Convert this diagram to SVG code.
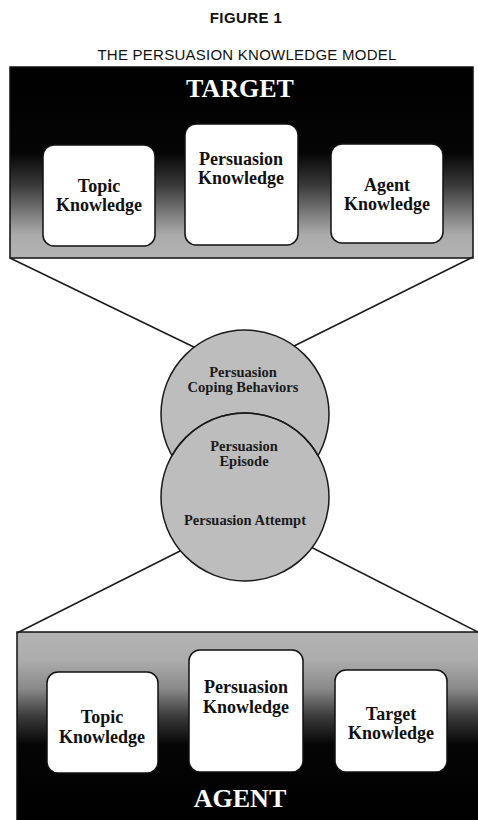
<svg xmlns="http://www.w3.org/2000/svg" width="478" height="820" viewBox="0 0 478 820">
<defs>
<linearGradient id="gTop" gradientUnits="userSpaceOnUse" x1="0" y1="67" x2="0" y2="258">
<stop offset="0" stop-color="#000"/>
<stop offset="0.45" stop-color="#050505"/>
<stop offset="0.62" stop-color="#3a3a3a"/>
<stop offset="0.8" stop-color="#8a8a8a"/>
<stop offset="0.88" stop-color="#ababab"/>
<stop offset="1" stop-color="#b4b4b4"/>
</linearGradient>
<linearGradient id="gBot" gradientUnits="userSpaceOnUse" x1="0" y1="632" x2="0" y2="820">
<stop offset="0" stop-color="#b4b4b4"/>
<stop offset="0.15" stop-color="#acacac"/>
<stop offset="0.3" stop-color="#8a8a8a"/>
<stop offset="0.45" stop-color="#3a3a3a"/>
<stop offset="0.6" stop-color="#050505"/>
<stop offset="1" stop-color="#000"/>
</linearGradient>
</defs>
<style>
.title{font-family:"Liberation Sans",Arial,sans-serif;fill:#111;text-anchor:middle}
.panel{stroke:#111;stroke-width:1.5}
.hdr{font-family:"Liberation Serif","Times New Roman",serif;font-weight:bold;fill:#fff;text-anchor:middle;font-size:26px}
.node rect{fill:#fff;stroke:#111;stroke-width:1.5}
.node text{font-family:"Liberation Serif","Times New Roman",serif;font-weight:bold;fill:#111;text-anchor:middle;font-size:18px}
.circ{fill:#bdbdbd;stroke:#1a1a1a;stroke-width:1.5}
.ctext{font-family:"Liberation Serif","Times New Roman",serif;font-weight:bold;fill:#1a1a1a;text-anchor:middle;font-size:14.5px}
.conn line{stroke:#1a1a1a;stroke-width:1.5}
</style>
<rect width="478" height="820" fill="#fff"/>
<text class="title" x="246" y="23" font-size="15" font-weight="bold" letter-spacing="0.4">FIGURE 1</text>
<text class="title" x="247" y="60" font-size="15" letter-spacing="0.25">THE PERSUASION KNOWLEDGE MODEL</text>

<g id="target-panel">
<rect class="panel" x="10" y="67" width="463" height="191" fill="url(#gTop)"/>
<text class="hdr" x="240" y="97">TARGET</text>
</g>
<g id="agent-panel">
<rect class="panel" x="17" y="632" width="470" height="200" fill="url(#gBot)"/>
<text class="hdr" x="240" y="807">AGENT</text>
</g>

<g id="connectors" class="conn">
<line x1="10" y1="258" x2="200" y2="350"/>
<line x1="473" y1="257" x2="290" y2="348"/>
<line x1="17" y1="633" x2="190" y2="546"/>
<line x1="478" y1="632" x2="303" y2="543"/>
</g>

<g id="target-topic" class="node">
<rect x="43" y="145" width="112" height="101" rx="11"/>
<text x="99" y="192">Topic</text>
<text x="99" y="211">Knowledge</text>
</g>
<g id="target-persuasion" class="node">
<rect x="185" y="124" width="113" height="121" rx="11"/>
<text x="241" y="165">Persuasion</text>
<text x="241" y="184">Knowledge</text>
</g>
<g id="target-agent" class="node">
<rect x="331" y="144" width="112" height="99" rx="11"/>
<text x="387" y="191">Agent</text>
<text x="387" y="210">Knowledge</text>
</g>

<g id="coping">
<circle class="circ" cx="245" cy="414" r="84"/>
</g>
<g id="attempt">
<circle class="circ" cx="245" cy="497" r="84"/>
<path d="M 172 455.5 A 84 84 0 0 1 318 455.5" fill="none" stroke="#1a1a1a" stroke-width="1.5"/>
<text class="ctext" x="245" y="525">Persuasion Attempt</text>
</g>
<g id="coping-text">
<text class="ctext" x="243" y="377">Persuasion</text>
<text class="ctext" x="243" y="392">Coping Behaviors</text>
</g>
<g id="episode">
<text class="ctext" x="244" y="451">Persuasion</text>
<text class="ctext" x="244" y="466">Episode</text>
</g>

<g id="agent-topic" class="node">
<rect x="47" y="672" width="111" height="101" rx="11"/>
<text x="102" y="723">Topic</text>
<text x="102" y="743">Knowledge</text>
</g>
<g id="agent-persuasion" class="node">
<rect x="189" y="650" width="114" height="122" rx="11"/>
<text x="246" y="693">Persuasion</text>
<text x="246" y="713">Knowledge</text>
</g>
<g id="agent-target" class="node">
<rect x="335" y="670" width="112" height="102" rx="11"/>
<text x="391" y="720">Target</text>
<text x="391" y="739">Knowledge</text>
</g>
</svg>
